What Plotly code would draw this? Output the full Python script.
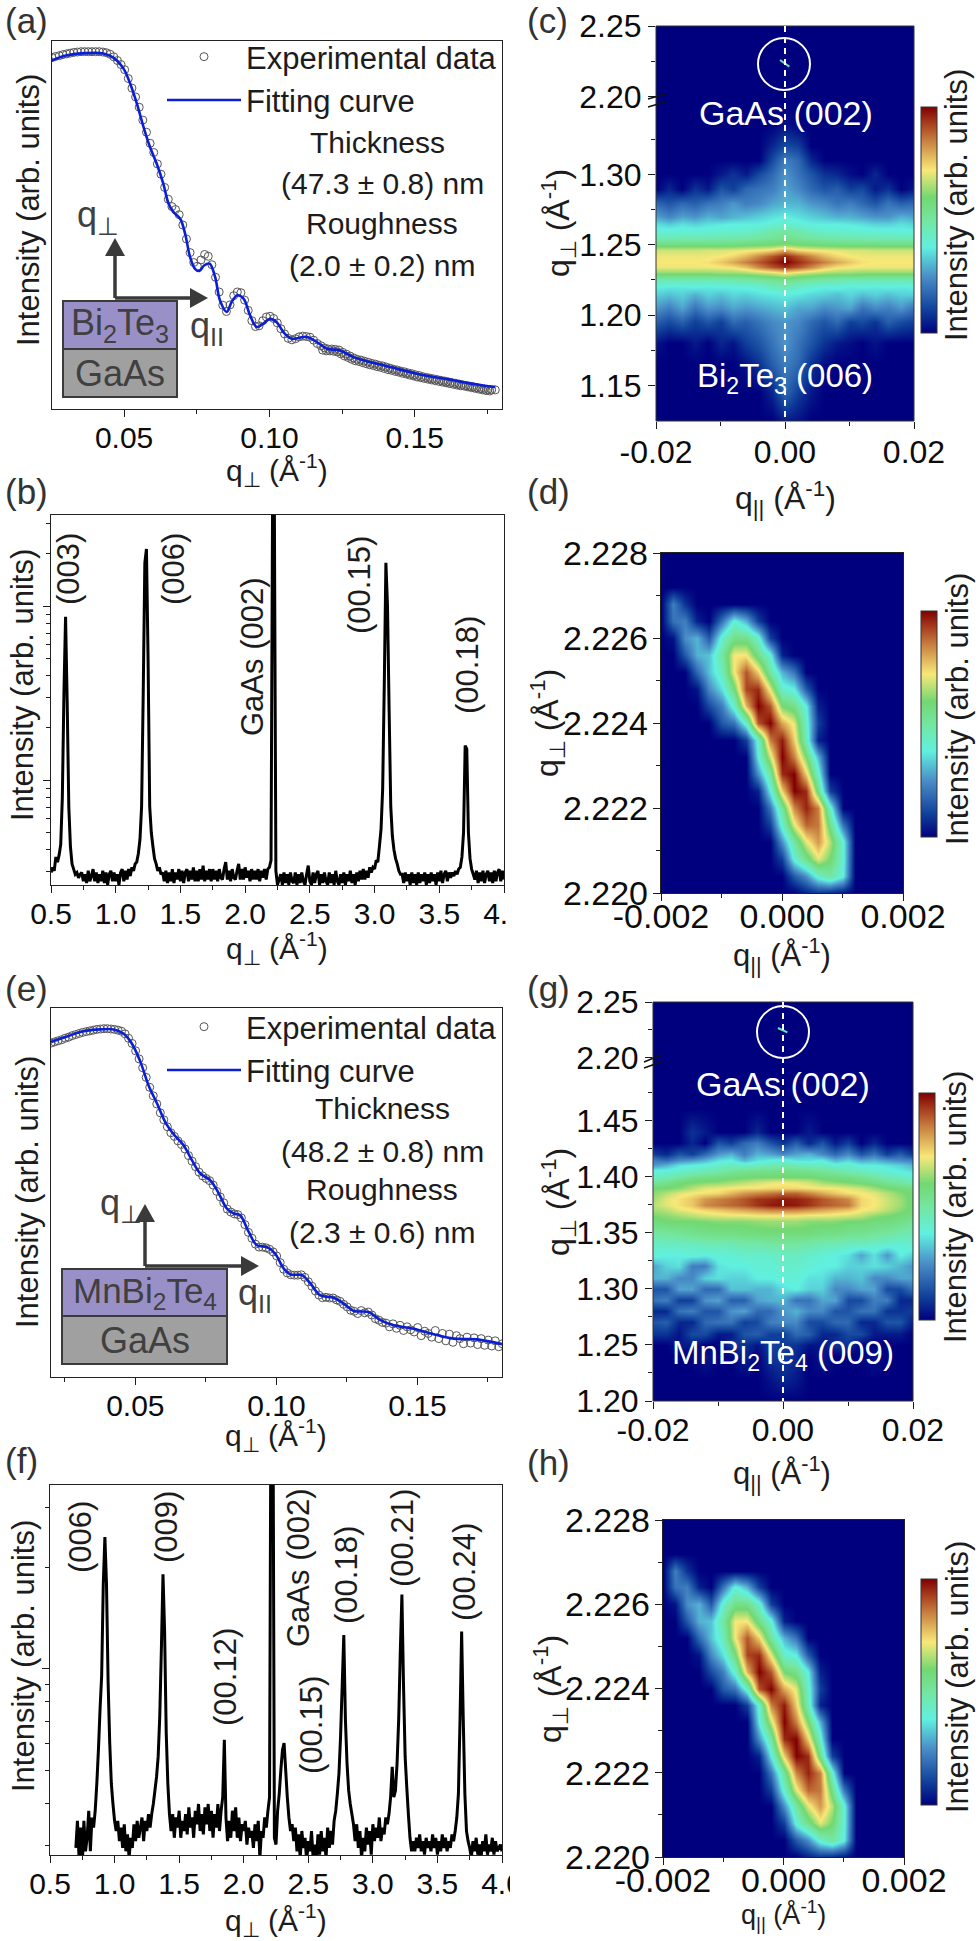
import numpy as np
import plotly.graph_objects as go

W, H = 979, 1941
FONT = "Liberation Sans"
INK = "#1c1c1c"

# (a) reflectivity, Bi2Te3: y is log intensity in arbitrary units
a_fit_q = [.0251,.0303,.0372,.0429,.0463,.0498,.0521,.0544,.0567,.0589,.0612,.0635,.0653,.0670,.0693,.0710,.0727,.0744,.0759,.0775,.0794,.0813,.0830,.0853,.0870,.0890,.0911,.0933,.0956,.0979,.1002,.1025,.1048,.1077,.1128,.1163,.1197,.1243,.1289,.1335,.1392,.1449,.1507,.1564,.1621,.1679,.1736,.1777]
a_fit_y = [.947,.961,.967,.966,.955,.925,.884,.830,.766,.712,.667,.612,.558,.535,.517,.476,.413,.381,.375,.390,.395,.359,.295,.264,.291,.309,.300,.255,.223,.232,.245,.236,.209,.191,.196,.182,.164,.159,.141,.130,.119,.107,.096,.087,.080,.071,.064,.060]
a_exp_y = [.955,.958,.960,.963,.965,.967,.969,.970,.971,.971,.971,.971,.971,.971,.970,.968,.964,.957,.947,.936,.922,.898,.872,.848,.820,.785,.752,.722,.697,.666,.638,.602,.570,.550,.542,.528,.500,.462,.425,.398,.388,.405,.420,.415,.392,.358,.318,.282,.265,.283,.308,.318,.316,.296,.268,.240,.224,.226,.240,.250,.252,.246,.234,.218,.204,.192,.188,.191,.196,.198,.197,.195,.187,.178,.172,.166,.163,.163,.162,.160,.154,.149,.144,.139,.135,.133,.130,.127,.124,.122,.119,.117,.114,.111,.108,.106,.103,.101,.098,.096,.093,.091,.088,.086,.084,.082,.080,.078,.076,.074,.072,.070,.068,.066,.064,.062,.060,.058,.056,.054,.053,.052,.052]
a_exp_q = .0252 + .00125 * np.arange(len(a_exp_y))
# the tail of (a) is sampled twice as densely
a_tail_y = [.160,.158,.158,.157,.155,.150,.144,.140,.135,.131,.129,.126,.123,.120,.118,.115,.113,.110,.107,.105,.102,.100,.097,.095,.092,.090,.087,.085,.083,.081,.079,.077,.075,.073,.071,.069,.067,.065,.063,.062,.060,.058,.056,.054,.052,.050,.049]
a_tail_q = .1183 + .00125 * np.arange(len(a_tail_y))

# (e) reflectivity, MnBi2Te4
e_fit_q = [.0201,.0258,.0317,.0376,.0423,.0459,.0488,.0518,.0547,.0577,.0606,.0636,.0671,.0701,.0731,.0766,.0796,.0825,.0849,.0872,.0902,.0931,.0967,.0996,.1026,.1050,.1091,.1121,.1156,.1203,.1239,.1274,.1327,.1369,.1416,.1487,.1558,.1629,.1712,.18]
e_fit_y = [.908,.923,.937,.942,.942,.930,.903,.854,.790,.741,.691,.658,.628,.587,.551,.533,.497,.456,.443,.438,.393,.357,.352,.334,.294,.278,.276,.253,.221,.215,.199,.179,.176,.154,.140,.131,.116,.104,.102,.089]
e_exp_y = [.905,.908,.911,.914,.918,.921,.925,.928,.931,.934,.936,.938,.940,.942,.943,.944,.944,.943,.942,.940,.937,.930,.918,.904,.884,.862,.838,.812,.785,.762,.740,.716,.697,.678,.662,.652,.640,.630,.618,.600,.585,.570,.555,.545,.538,.532,.520,.503,.488,.472,.455,.447,.442,.440,.431,.413,.392,.376,.360,.352,.352,.350,.346,.339,.328,.310,.292,.282,.277,.276,.276,.277,.270,.258,.246,.233,.222,.215,.216,.214,.214,.209,.205,.197,.190,.181,.178,.172,.180,.174,.176,.168,.158,.154,.148,.146,.136,.144,.132,.140,.126,.136,.128,.122,.134,.112,.124,.118,.108,.126,.104,.118,.098,.116,.094,.112,.104,.090,.108,.092,.106,.088,.104,.086,.100,.084,.098,.082,.090]
e_exp_q = .0201 + .00125 * np.arange(len(e_exp_y))

# (b) theta-2theta scan, log10 of the counts, read every 0.0125 1/A
b_parts = [
    (.5000, [3.47,3.50,3.48,3.56,3.53,3.57,3.63,3.90,4.50,4.94,4.45,3.85,3.62,3.52,3.49,3.46,3.47,3.44,3.46]),
    (.7375, [3.47,3.42,3.46,3.41,3.48,3.42,3.45,3.49,3.42,3.47,3.41,3.46,3.42,3.48,3.41,3.47,3.40,3.46,3.48,3.42,3.47,3.42,3.46,3.40,3.47,3.49,3.42,3.48,3.43,3.49,3.45]),
    (1.125, [3.50,3.48,3.52,3.53,3.58,3.66,3.85,4.50,5.25,5.33,4.70,3.85,3.70,3.62,3.55,3.52,3.48,3.50,3.46,3.47]),
    (1.375, [3.42,3.48,3.41,3.47,3.42,3.49,3.41,3.47,3.43,3.49,3.42,3.48,3.41,3.47,3.49,3.42,3.48,3.43,3.50,3.42,3.48,3.42,3.49,3.43,3.51,3.42,3.48,3.43,3.49,3.42,3.49,3.43,3.48,3.42,3.49,3.44,3.43,3.49,3.53,3.43,3.48,3.42,3.49,3.44,3.43,3.48,3.52,3.43,3.49,3.43,3.50,3.44,3.48,3.42,3.49,3.43,3.48,3.43,3.49,3.42,3.48,3.44,3.49,3.43,3.49,3.50]),
    (2.200, [3.54,5.70,5.70,3.48,3.40,3.43]),
    (2.275, [3.46,3.40,3.47,3.41,3.46,3.40,3.47,3.42,3.41,3.47,3.40,3.46,3.41,3.47,3.42,3.40,3.46,3.51,3.42,3.40,3.47,3.41,3.46,3.48,3.40,3.46,3.41,3.47,3.42,3.40,3.47,3.41,3.46,3.40,3.48,3.42,3.40,3.46,3.41,3.47,3.40,3.46,3.42,3.48,3.41,3.46,3.40,3.47,3.42,3.48,3.43,3.49,3.43,3.48,3.44,3.50]),
    (2.975, [3.47,3.50,3.49,3.54,3.53,3.62,3.72,3.95,4.55,5.25,5.00,4.40,3.85,3.68,3.60,3.55,3.52,3.48,3.46]),
    (3.2125, [3.46,3.41,3.47,3.42,3.46,3.40,3.47,3.41,3.46,3.40,3.47,3.41,3.46,3.42,3.47,3.40,3.46,3.41,3.47,3.42,3.46,3.40,3.47,3.42,3.48,3.41,3.46,3.48,3.42,3.47]),
    (3.5875, [3.44,3.47,3.45,3.48,3.46,3.49,3.50,3.56,3.70,4.20,4.18,3.70,3.55,3.49,3.46]),
    (3.775, [3.43,3.48,3.41,3.47,3.42,3.48,3.41,3.46,3.48,3.42,3.47,3.41,3.48,3.42,3.47,3.49,3.42,3.48,3.43]),
]

# (f) same kind of scan for MnBi2Te4
f_parts = [
    (.7000, [3.47,3.55,3.44,3.53,3.42,3.55,3.46,3.50,3.58,3.46,3.56]),
    (.8375, [3.53,3.58,3.66,3.76,3.88,3.98,4.25,4.39,4.25,3.96,3.78,3.66,3.60,3.55,3.52]),
    (1.025, [3.55,3.49,3.53,3.47,3.54,3.46,3.51,3.44,3.50,3.47,3.54,3.49,3.55,3.50,3.53,3.56,3.49,3.55,3.52,3.57,3.53]),
    (1.2875, [3.57,3.60,3.64,3.68,3.74,3.86,4.06,4.28,4.11,3.81,3.66,3.57]),
    (1.4375, [3.52,3.57,3.50,3.56,3.53,3.58,3.50,3.55,3.52,3.57,3.51,3.59,3.53,3.56,3.50,3.58,3.54,3.60,3.52,3.57,3.51,3.59,3.54,3.60,3.52,3.58,3.50,3.57,3.53,3.60,3.52,3.58]),
    (1.8375, [3.62,3.79,3.56,3.49]),
    (1.8875, [3.55,3.50,3.58,3.52,3.59,3.50,3.56,3.49,3.54,3.52,3.55,3.48,3.53,3.50,3.52,3.47,3.54,3.49,3.55,3.44,3.52,3.50,3.56,3.53,3.58]),
    (2.200, [3.62,5.00,5.00,3.50,3.48,3.58,3.63,3.70,3.76,3.78,3.70,3.62,3.56,3.52,3.54,3.49]),
    (2.400, [3.53,3.46,3.51,3.44,3.52,3.47,3.50,3.43,3.49,3.46,3.52,3.44,3.48,3.43,3.51,3.45,3.52,3.46,3.50,3.44,3.53,3.47,3.52,3.48]),
    (2.700, [3.55,3.58,3.63,3.69,3.80,3.95,4.10,3.85,3.72,3.64,3.60,3.57,3.54]),
    (2.8625, [3.49,3.54,3.47,3.52,3.44,3.50,3.46,3.53,3.48,3.52,3.45,3.54,3.49,3.53,3.50,3.56,3.49,3.53,3.51,3.56]),
    (3.1125, [3.54,3.57,3.62,3.71,3.62,3.64,3.72,3.85,4.05,4.22,3.95,3.74,3.65,3.57,3.50,3.46]),
    (3.3125, [3.49,3.46,3.50,3.47,3.51,3.46,3.49,3.45,3.50,3.47,3.49,3.46,3.51,3.47,3.50,3.45,3.49,3.46,3.51,3.47,3.50,3.46,3.49,3.47,3.51,3.49]),
    (3.6375, [3.52,3.56,3.63,3.85,4.11,3.85,3.63,3.52,3.49]),
    (3.750, [3.47,3.44,3.49,3.46,3.50,3.45,3.48,3.44,3.49,3.46,3.51,3.45,3.48,3.46,3.50,3.45,3.49,3.46,3.47,3.48,3.46]),
]

# (c) RSM around Bi2Te3 (006), intensity in percent of the colour bar
c_qx = [-.02 + .002 * j for j in range(21)]
c_qz = [1.125,1.145,1.165,1.18,1.195,1.205,1.215,1.22,1.225,1.23,1.234,1.238,1.242,1.246,1.25,1.255,1.26,1.265,1.27,1.28,1.29,1.30,1.31,1.32,1.335,1.353]
c_z = [
    [0,0,0,0,0,0,0,0,0,0,5,3,0,0,0,0,0,0,0,0,0],
    [0,0,0,0,0,0,0,0,0,6,18,10,4,0,0,0,0,0,0,0,0],
    [0,0,0,0,0,0,0,3,8,16,22,18,8,2,0,0,0,0,0,0,0],
    [3,0,0,4,0,6,3,10,14,20,26,20,14,8,4,2,0,3,0,0,0],
    [16,12,16,10,14,10,18,16,20,24,26,24,18,14,18,10,12,8,16,12,10],
    [26,22,28,20,26,24,28,26,28,30,32,28,28,24,26,28,20,24,22,26,20],
    [34,32,34,30,34,32,35,34,36,37,38,37,35,34,32,35,32,34,32,34,34],
    [38,37,37,38,37,38,38,39,40,44,46,42,40,38,39,37,38,37,38,37,38],
    [46,46,46,46,46,46,47,48,50,52,54,52,50,48,47,46,46,46,46,46,46],
    [62,62,62,62,62,63,63,64,66,68,72,68,66,64,63,63,62,62,62,62,62],
    [71,71,71,71,71,72,73,77,84,90,94,90,84,77,73,72,71,71,71,71,71],
    [72,72,72,72,73,76,80,85,90,95,100,95,90,85,80,76,73,72,72,72,72],
    [71,71,71,71,71,72,74,78,84,90,96,90,84,78,74,72,71,71,71,71,71],
    [68,68,68,68,69,69,70,71,72,74,80,74,72,71,70,69,69,68,68,68,68],
    [58,58,58,58,58,58,58,59,60,61,63,61,60,59,58,58,58,58,58,58,58],
    [46,46,47,47,47,48,48,49,50,52,54,52,50,49,48,48,47,47,46,46,46],
    [40,40,40,40,40,41,41,42,44,48,50,48,44,42,41,41,40,40,40,39,39],
    [36,33,36,34,36,37,38,38,38,40,42,40,38,38,38,37,36,34,34,36,34],
    [28,24,28,26,30,28,30,32,34,36,38,36,34,32,30,30,28,26,26,30,28],
    [18,14,18,16,20,22,26,22,24,28,30,30,26,24,20,22,18,14,20,16,18],
    [0,6,0,8,4,14,10,18,20,22,28,24,18,14,16,10,12,4,8,0,4],
    [0,0,0,0,0,4,8,4,12,18,26,20,14,8,6,2,0,6,0,0,0],
    [0,0,0,0,0,0,0,0,0,12,22,18,6,0,0,0,0,0,0,0,0],
    [0,0,0,0,0,0,0,0,0,6,12,10,0,0,0,0,0,0,0,0,0],
    [0,0,0,0,0,0,0,0,0,0,3,0,0,0,0,0,0,0,0,0,0],
    [0,0,0,0,0,0,0,0,0,0,0,0,0,0,0,0,0,0,0,0,0],
]

# (g) RSM around MnBi2Te4 (009)
g_qx = c_qx
g_qz = [1.20,1.22,1.24,1.25,1.26,1.27,1.28,1.29,1.30,1.31,1.32,1.33,1.34,1.35,1.36,1.365,1.37,1.375,1.38,1.385,1.39,1.395,1.40,1.405,1.41,1.415,1.42,1.43,1.44,1.46,1.502]
g_z = [
    [0,0,0,0,0,0,0,0,0,0,0,0,0,0,0,0,0,0,0,0,0],
    [0,0,0,0,0,0,0,0,0,3,6,4,0,0,0,0,0,0,0,0,0],
    [0,0,0,0,4,0,0,6,0,8,10,6,0,4,0,0,0,3,0,0,0],
    [0,0,4,4,0,0,8,8,3,10,10,8,3,3,8,8,0,0,0,0,0],
    [8,8,3,12,12,4,4,14,16,10,10,18,16,6,6,12,12,4,4,4,0],
    [14,16,6,6,18,20,20,10,12,22,24,24,12,12,18,18,6,6,14,14,4],
    [6,6,20,22,14,14,26,28,18,18,26,30,24,24,14,14,20,20,8,8,10],
    [20,22,10,10,26,28,16,16,28,30,30,20,20,28,28,12,12,22,22,6,6],
    [14,14,28,28,18,18,32,32,30,30,36,38,34,34,24,24,28,28,12,12,20],
    [30,30,24,24,34,36,34,34,38,38,40,40,36,36,30,30,32,24,24,28,28],
    [28,34,36,22,22,36,38,38,40,40,42,42,40,38,38,34,34,36,34,30,26],
    [40,38,38,40,38,40,40,42,42,42,44,44,42,40,38,36,28,36,26,38,34],
    [42,44,44,44,46,46,46,48,48,50,50,50,48,46,46,44,44,42,42,40,42],
    [50,50,52,54,55,56,56,57,58,58,58,58,58,56,56,54,54,52,50,48,46],
    [58,60,60,60,61,62,62,62,63,64,64,64,62,62,62,60,60,58,58,56,52],
    [60,62,64,66,68,69,70,70,71,71,71,71,70,70,69,68,66,62,60,58,56],
    [64,66,70,72,74,76,78,80,82,84,84,84,82,80,78,76,72,70,66,62,58],
    [66,70,73,76,84,86,88,90,94,97,98,97,94,90,88,86,74,72,68,64,58],
    [64,70,73,76,82,85,87,90,94,95,97,96,94,90,87,84,74,72,68,64,58],
    [62,66,70,72,73,74,78,82,84,86,88,88,84,80,76,73,72,70,66,62,58],
    [60,60,62,66,70,71,72,73,73,74,74,74,73,72,72,70,68,64,60,58,56],
    [50,54,58,60,61,62,64,66,68,70,71,70,68,64,62,60,58,56,52,50,46],
    [44,46,50,54,56,57,58,59,60,60,60,60,60,58,57,56,54,50,46,44,40],
    [40,40,42,44,46,48,52,54,55,55,56,55,54,52,50,46,44,42,40,38,36],
    [26,30,36,38,40,42,44,42,44,46,48,46,44,44,40,42,38,38,36,34,30],
    [22,18,24,26,30,36,38,30,36,38,40,36,36,38,30,34,28,30,26,24,22],
    [10,6,14,10,18,26,30,22,30,28,24,28,30,24,18,24,14,20,10,16,8],
    [0,0,0,6,0,14,10,18,22,14,8,16,6,14,4,10,0,6,0,0,0],
    [0,0,0,8,4,0,0,0,6,0,0,0,4,0,0,0,0,0,0,0,0],
    [0,0,0,0,0,0,0,0,0,0,0,0,0,0,0,0,0,0,0,0,0],
    [0,0,0,0,0,0,0,0,0,0,0,0,0,0,0,0,0,0,0,0,0],
]

# (d) and (h) RSM around GaAs (002), both panels show the same map
d_qx = [-.002 + .0002 * j for j in range(21)]
d_qz = [2.220 + .0004 * i for i in range(21)]
d_z = [
    [0,0,0,0,0,0,0,0,0,0,0,0,5,8,6,3,0,0,0,0,0],
    [0,0,0,0,0,0,0,0,0,0,0,15,25,42,50,38,0,0,0,0,0],
    [0,0,0,0,0,0,0,0,0,0,10,40,55,70,60,40,0,0,0,0,0],
    [0,0,0,0,0,0,0,0,0,0,25,50,70,82,66,40,0,0,0,0,0],
    [0,0,0,0,0,0,0,0,0,10,42,70,88,86,55,20,0,0,0,0,0],
    [0,0,0,0,0,0,0,0,0,20,52,84,96,85,42,0,0,0,0,0,0],
    [0,0,0,0,0,0,0,0,5,38,75,100,95,55,10,0,0,0,0,0,0],
    [0,0,0,0,0,0,0,0,25,50,95,100,75,42,0,0,0,0,0,0,0],
    [0,0,0,0,0,0,0,0,38,68,100,85,60,30,0,0,0,0,0,0,0],
    [0,0,0,0,0,0,0,10,42,85,97,75,45,5,0,0,0,0,0,0,0],
    [0,0,0,0,0,15,20,42,90,100,80,70,42,10,0,0,0,0,0,0,0],
    [0,0,0,0,12,22,42,78,100,90,60,55,38,5,0,0,0,0,0,0,0],
    [0,0,0,3,24,36,58,92,95,70,42,38,15,0,0,0,0,0,0,0,0],
    [0,0,0,18,32,45,72,90,75,50,30,20,0,0,0,0,0,0,0,0,0],
    [0,0,15,30,32,50,72,72,55,40,5,0,0,0,0,0,0,0,0,0,0],
    [0,3,25,30,15,42,55,55,42,10,0,0,0,0,0,0,0,0,0,0,0],
    [0,20,22,5,0,20,40,30,10,0,0,0,0,0,0,0,0,0,0,0,0],
    [0,22,8,0,0,0,0,0,0,0,0,0,0,0,0,0,0,0,0,0,0],
    [0,0,0,0,0,0,0,0,0,0,0,0,0,0,0,0,0,0,0,0,0],
    [0,0,0,0,0,0,0,0,0,0,0,0,0,0,0,0,0,0,0,0,0],
    [0,0,0,0,0,0,0,0,0,0,0,0,0,0,0,0,0,0,0,0,0],
]

# GaAs streak seen in the wide maps (c) and (g)
c_sub_qx = [-.00078, .00067]
c_sub_qz = [2.2259, 2.2212]
g_sub_qx = [-.00078, .00067]
g_sub_qz = [2.2265, 2.2225]

colors = [[0, "#00007f"], [.10, "#0f3f9a"], [.25, "#4a8ec8"], [.38, "#60f0e0"], [.50, "#74e6a0"],
          [.60, "#72d872"], [.72, "#f8e878"], [.85, "#c88040"], [.93, "#a63c1c"], [1, "#7f0000"]]

fig = go.Figure()
shapes, notes = [], []


def px(x):
    return x / W


def py(y):
    return 1 - y / H


def text(s, x, y, size=30, color=INK, angle=0, anchor="center"):
    notes.append(dict(text=s, x=px(x), y=py(y), xref="paper", yref="paper", showarrow=False,
                      font=dict(family=FONT, size=size, color=color), textangle=angle,
                      xanchor=anchor, yanchor="middle"))


def axes(n, l, r, t, b, xkw, ykw):
    fig.layout["xaxis" + n] = dict(domain=[px(l), px(r)], anchor="y" + n, **xkw)
    fig.layout["yaxis" + n] = dict(domain=[py(b), py(t)], anchor="x" + n, **ykw)


def ticks(vals, minor, size=30, labels=None, line=True, standoff=0):
    d = dict(tickmode="array", tickvals=vals, ticks="outside", ticklen=7, tickwidth=1.3, tickcolor=INK,
             showgrid=False, zeroline=False, showline=line, linecolor="#222222", linewidth=1.4, mirror=line,
             showticklabels=labels is not None, tickfont=dict(family=FONT, size=size, color="#0c0c0c"),
             minor=dict(tickmode="array", tickvals=minor, ticks="outside", ticklen=4, tickwidth=1.2, tickcolor=INK))
    if labels is not None:
        d["ticktext"] = labels
        d["ticklabelstandoff"] = standoff
    return d


def box(l, t, r, b, **kw):
    shapes.append(dict(type="rect", xref="paper", yref="paper", x0=px(l), x1=px(r), y0=py(t), y1=py(b), **kw))


def seg(x0, y0, x1, y1, color, width, dash="solid"):
    shapes.append(dict(type="line", xref="paper", yref="paper", x0=px(x0), x1=px(x1), y0=py(y0), y1=py(y1),
                       line=dict(color=color, width=width, dash=dash)))


def tri(pts, color):
    path = "M" + " L".join(f"{px(x):.5f},{py(y):.5f}" for x, y in pts) + " Z"
    shapes.append(dict(type="path", xref="paper", yref="paper", path=path, fillcolor=color,
                       line=dict(color=color, width=0)))


def inset(l, r, t, m, b, film, ox, up_tip, right_tip, q_perp, q_par, size):
    arrow = "#3a3a3a"
    box(l, t, r, m, fillcolor="#9a90c8", line=dict(color=arrow, width=2))
    box(l, m, r, b, fillcolor="#a0a0a0", line=dict(color=arrow, width=2))
    seg(ox, t - 3, ox, up_tip + 16, arrow, 3.5)
    seg(ox, t - 3, right_tip - 16, t - 3, arrow, 3.5)
    tri([(ox - 10, up_tip + 18), (ox + 10, up_tip + 18), (ox, up_tip)], arrow)
    tri([(right_tip - 18, t - 13), (right_tip - 18, t + 7), (right_tip, t - 3)], arrow)
    text(film, (l + r) / 2, (t + m) / 2, size, "#404040")
    text("GaAs", (l + r) / 2, (m + b) / 2, 36, "#404040")
    text("q<sub>⊥</sub>", q_perp[0], q_perp[1], 36, "#404040", anchor="left")
    text("q<sub>II</sub>", q_par[0], q_par[1], 36, "#404040", anchor="left")


def spectrum(parts):
    q = np.concatenate([start + .0125 * np.arange(len(v)) for start, v in parts])
    y = np.concatenate([v for _, v in parts])
    return q, 10 ** y


def rsm(n, x, y, z, bar):
    fig.add_trace(go.Heatmap(x=x, y=y, z=z, xaxis="x" + n, yaxis="y" + n, zmin=0, zmax=100, zsmooth="best",
                             colorscale=colors, hoverinfo="skip",
                             colorbar=dict(x=px(bar[0]), xanchor="left", thickness=16, thicknessmode="pixels",
                                           y=py(bar[2]), yanchor="bottom", len=(bar[2] - bar[1]) / H, lenmode="fraction",
                                           xpad=0, ypad=0, ticks="", showticklabels=False,
                                           outlinecolor="#333333", outlinewidth=1)))


def flat(n, xr, yr):
    fig.add_trace(go.Heatmap(x=xr, y=yr, z=[[0, 0], [0, 0]], xaxis="x" + n, yaxis="y" + n, zmin=0, zmax=100,
                             colorscale=colors, showscale=False, hoverinfo="skip"))


PERP = "q<sub>⊥</sub> (Å<sup>-1</sup>)"
PAR = "q<sub>||</sub> (Å<sup>-1</sup>)"
ARB = "Intensity (arb. units)"
q_labels = ["0.5", "1.0", "1.5", "2.0", "2.5", "3.0", "3.5", "4.0"]
open_mark = dict(symbol="circle-open", size=8, color="#555555", line=dict(width=1, color="#555555"))

# ---- (a) ----
axes("", 52, 502, 41, 409, dict(range=[.0252, .18], **ticks([.05, .10, .15], [.025, .075, .125, .175], labels=["0.05", "0.10", "0.15"], standoff=-5)),
     dict(range=[0, 1], **ticks([], [])))
fig.add_trace(go.Scatter(x=np.concatenate([a_exp_q, a_tail_q]), y=a_exp_y + a_tail_y, mode="markers", name="Experimental data", legend="legend",
                         marker=open_mark))
fig.add_trace(go.Scatter(x=a_fit_q, y=a_fit_y, mode="lines", name="Fitting curve", legend="legend",
                         line=dict(color="#0a1ed6", width=2.6, shape="spline")))
text("(a)", 3, 20, 35, "#333333", anchor="left")
text(ARB, 28, 210, 31, angle=-90)
text(PERP, 277, 470, 30)
text("Thickness", 377, 143)
text("(47.3 ± 0.8) nm", 382, 184)
text("Roughness", 382, 223)
text("(2.0 ± 0.2) nm", 382, 266)
inset(63, 177, 301, 349, 397, "Bi<sub>2</sub>Te<sub>3</sub>", 115, 238, 208, (75, 217), (188, 328), 36)

# ---- (b) ----
b_q, b_i = spectrum(b_parts)
axes("2", 51, 504, 515, 885,
     dict(range=[.5, 4.0], **ticks([.5, 1, 1.5, 2, 2.5, 3, 3.5, 4], [.75, 1.25, 1.75, 2.25, 2.75, 3.25, 3.75], labels=q_labels, standoff=-5)),
     dict(type="log", range=[3.3985, 5.525],
          **ticks([1e4, 1e5], [m * 10 ** e for e in (3, 4, 5) for m in range(2, 10)])))
fig.add_trace(go.Scatter(x=b_q, y=b_i, mode="lines", xaxis="x2", yaxis="y2", showlegend=False,
                         line=dict(color="#000000", width=3, simplify=False)))
text("(b)", 3, 492, 35, "#333333", anchor="left")
text(ARB, 23, 685, 31, angle=-90)
text(PERP, 277, 948, 30)
for s, x, y in [("(003)", 68, 569), ("(006)", 173, 569), ("GaAs (002)", 252, 657), ("(00.15)", 360, 585), ("(00.18)", 468, 665)]:
    text(s, x, y, 31, angle=-90)
box(506, 890, 535, 930, fillcolor="#ffffff", line=dict(width=0))

# ---- (e) ----
axes("3", 51, 502, 1008, 1377, dict(range=[.0201, .18], **ticks([.05, .10, .15], [.025, .075, .125, .175], labels=["0.05", "0.10", "0.15"], standoff=-5)),
     dict(range=[0, 1], **ticks([], [])))
fig.add_trace(go.Scatter(x=e_exp_q, y=e_exp_y, mode="markers", xaxis="x3", yaxis="y3", name="Experimental data", legend="legend2",
                         marker=open_mark))
fig.add_trace(go.Scatter(x=e_fit_q, y=e_fit_y, mode="lines", xaxis="x3", yaxis="y3", name="Fitting curve", legend="legend2",
                         line=dict(color="#0a1ed6", width=2.6, shape="spline")))
text("(e)", 3, 988, 35, "#333333", anchor="left")
text(ARB, 27, 1192, 31, angle=-90)
text(PERP, 276, 1435, 30)
text("Thickness", 382, 1108)
text("(48.2 ± 0.8) nm", 382, 1151)
text("Roughness", 382, 1189)
text("(2.3 ± 0.6) nm", 382, 1232)
inset(62, 227, 1269, 1316, 1364, "MnBi<sub>2</sub>Te<sub>4</sub>", 145, 1204, 259, (98, 1205), (236, 1295), 35)

# ---- (f) ----
f_q, f_i = spectrum(f_parts)
axes("4", 50, 502, 1485, 1855,
     dict(range=[.5, 4.0], **ticks([.5, 1, 1.5, 2, 2.5, 3, 3.5, 4], [.75, 1.25, 1.75, 2.25, 2.75, 3.25, 3.75], labels=q_labels, standoff=-5)),
     dict(type="log", range=[3.449, 4.544],
          **ticks([1e4], [m * 10 ** e for e in (3, 4) for m in range(2, 10)])))
fig.add_trace(go.Scatter(x=f_q, y=f_i, mode="lines", xaxis="x4", yaxis="y4", showlegend=False,
                         line=dict(color="#000000", width=3, simplify=False)))
text("(f)", 3, 1460, 35, "#333333", anchor="left")
text(ARB, 23, 1656, 31, angle=-90)
text(PERP, 276, 1920, 30)
for s, x, y in [("(006)", 80, 1537), ("(009)", 166, 1527), ("(00.12)", 225, 1677), ("GaAs (002)", 298, 1568),
                ("(00.15)", 311, 1725), ("(00.18)", 346, 1575), ("(00.21)", 402, 1538), ("(00.24)", 464, 1572)]:
    text(s, x, y, 31, angle=-90)
box(510, 1860, 535, 1900, fillcolor="#ffffff", line=dict(width=0))

# ---- (c) ----
wide_x = ["-0.02", "0.00", "0.02"]
axes("5", 656, 914, 100, 421,
     dict(range=[-.02, .02], **ticks([-.02, 0, .02], [-.01, .01], size=32, labels=wide_x, line=False, standoff=-4)),
     dict(range=[1.1246, 1.353], **ticks([1.15, 1.20, 1.25, 1.30], [1.175, 1.225, 1.275, 1.325], size=32, labels=["1.15", "1.20", "1.25", "1.30"], line=False)))
axes("6", 656, 914, 26, 100,
     dict(range=[-.02, .02], **ticks([], [], line=False)),
     dict(range=[2.1976, 2.25], **ticks([2.20, 2.25], [2.225], size=32, labels=["2.20", "2.25"], line=False)))
rsm("5", c_qx, c_qz, c_z, (921, 107, 333))
flat("6", [-.02, .02], [2.19, 2.26])
fig.add_trace(go.Scatter(x=c_sub_qx, y=c_sub_qz, mode="lines", xaxis="x6", yaxis="y6", showlegend=False,
                         line=dict(color="#62e8c0", width=2)))
box(656, 26, 914, 421, line=dict(color="#333333", width=1))
seg(785, 26, 785, 421, "#ffffff", 2, "6px,5px")
shapes.append(dict(type="circle", xref="paper", yref="paper", x0=px(758), x1=px(810), y0=py(38), y1=py(90),
                   line=dict(color="#ffffff", width=2)))
seg(648, 99, 665, 94, "#111111", 1.5)
seg(648, 107, 665, 102, "#111111", 1.5)
text("(c)", 525, 21, 35, "#333333", anchor="left")
text(PERP, 558, 223, 32, angle=-90)
text(PAR, 785, 498, 32)
text(ARB, 957, 205, 31, angle=-90)
text("GaAs (002)", 786, 113, 34, "#ffffff")
text("Bi<sub>2</sub>Te<sub>3</sub> (006)", 785, 378, 33, "#ffffff")

# ---- (d) ----
narrow_x = ["-0.002", "0.000", "0.002"]
narrow_y = ["2.220", "2.222", "2.224", "2.226", "2.228"]
axes("7", 661, 903, 553, 893,
     dict(range=[-.002, .002], **ticks([-.002, 0, .002], [-.001, .001], size=34, labels=narrow_x, standoff=-14)),
     dict(range=[2.220, 2.228], **ticks([2.220, 2.222, 2.224, 2.226, 2.228], [2.221, 2.223, 2.225, 2.227], size=34, labels=narrow_y, standoff=-2)))
rsm("7", d_qx, d_qz, d_z, (921, 611, 837))
text("(d)", 525, 492, 35, "#333333", anchor="left")
text(PERP, 547, 723, 32, angle=-90)
text(PAR, 782, 955, 31)
text(ARB, 957, 709, 31, angle=-90)

# ---- (g) ----
axes("8", 653, 913, 1062, 1401,
     dict(range=[-.02, .02], **ticks([-.02, 0, .02], [-.01, .01], size=32, labels=wide_x, line=False, standoff=-6)),
     dict(range=[1.20, 1.502], **ticks([1.20, 1.25, 1.30, 1.35, 1.40, 1.45], [1.225, 1.275, 1.325, 1.375, 1.425, 1.475], size=32, labels=["1.20", "1.25", "1.30", "1.35", "1.40", "1.45"], line=False)))
axes("9", 653, 913, 1002, 1062,
     dict(range=[-.02, .02], **ticks([], [], line=False)),
     dict(range=[2.1958, 2.25], **ticks([2.20, 2.25], [2.225], size=32, labels=["2.20", "2.25"], line=False)))
rsm("8", g_qx, g_qz, g_z, (919, 1093, 1320))
flat("9", [-.02, .02], [2.19, 2.26])
fig.add_trace(go.Scatter(x=g_sub_qx, y=g_sub_qz, mode="lines", xaxis="x9", yaxis="y9", showlegend=False,
                         line=dict(color="#62e8c0", width=2)))
box(653, 1002, 913, 1401, line=dict(color="#333333", width=1))
seg(783, 1002, 783, 1401, "#ffffff", 2, "6px,5px")
shapes.append(dict(type="circle", xref="paper", yref="paper", x0=px(757), x1=px(809), y0=py(1006), y1=py(1058),
                   line=dict(color="#ffffff", width=2)))
seg(644, 1062, 661, 1055, "#111111", 1.5)
seg(644, 1068, 661, 1062, "#111111", 1.5)
text("(g)", 525, 988, 35, "#333333", anchor="left")
text(PERP, 558, 1202, 32, angle=-90)
text(PAR, 782, 1473, 31)
text(ARB, 955, 1207, 31, angle=-90)
text("GaAs (002)", 783, 1084, 34, "#ffffff")
text("MnBi<sub>2</sub>Te<sub>4</sub> (009)", 783, 1355, 33, "#ffffff")

# ---- (h) ----
axes("10", 663, 904, 1520, 1857,
     dict(range=[-.002, .002], **ticks([-.002, 0, .002], [-.001, .001], size=34, labels=narrow_x, standoff=-14)),
     dict(range=[2.220, 2.228], **ticks([2.220, 2.222, 2.224, 2.226, 2.228], [2.221, 2.223, 2.225, 2.227], size=34, labels=narrow_y, standoff=-2)))
rsm("10", d_qx, d_qz, d_z, (921, 1579, 1805))
text("(h)", 525, 1462, 35, "#333333", anchor="left")
text(PERP, 550, 1689, 32, angle=-90)
text(PAR, 783, 1915, 27)
text(ARB, 957, 1677, 31, angle=-90)

leg = dict(xanchor="left", yanchor="top", bgcolor="rgba(0,0,0,0)", borderwidth=0, itemwidth=74, tracegroupgap=0,
           font=dict(family=FONT, size=31, color=INK), traceorder="normal", itemclick=False, itemdoubleclick=False)
fig.update_layout(
    width=W, height=H, margin=dict(l=0, r=0, t=0, b=0, autoexpand=False), paper_bgcolor="#ffffff", plot_bgcolor="#ffffff",
    font=dict(family=FONT, color=INK), shapes=shapes, annotations=notes,
    legend=dict(x=px(162), y=py(30), **leg), legend2=dict(x=px(162), y=py(1000), **leg),
)
fig.write_html("out.html", post_script="document.body.style.margin='0';", config=dict(displayModeBar=False))
